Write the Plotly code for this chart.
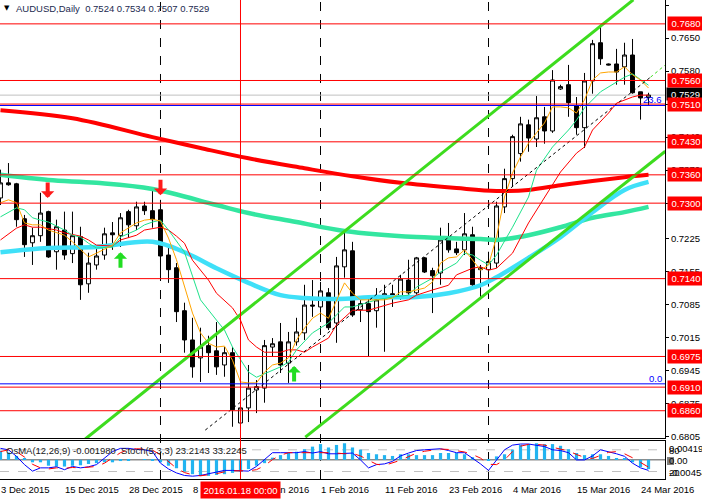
import plotly.graph_objects as go

FONT = "Liberation Sans"

# AUDUSD daily bars, index 0 = 3 Dec 2015 ... 81 = 25 Mar 2016
bars = list(range(82))
opens = [0.7311, 0.7343, 0.7341, 0.7267, 0.7216, 0.7231, 0.7282, 0.7197, 0.7243, 0.7193,
         0.7229, 0.7129, 0.7169, 0.7190, 0.7237, 0.7231, 0.7282, 0.7252, 0.7294, 0.7284,
         0.7286, 0.7190, 0.7163, 0.7072, 0.7010, 0.6972, 0.6998, 0.6987, 0.6957, 0.6983,
         0.6834, 0.6866, 0.6904, 0.6908, 0.6995, 0.7006, 0.6961, 0.7006, 0.7025, 0.7084,
         0.7080, 0.7110, 0.7046, 0.7165, 0.7199, 0.7074, 0.7087, 0.7072, 0.7101, 0.7108,
         0.7101, 0.7137, 0.7110, 0.7184, 0.7157, 0.7152, 0.7222, 0.7203, 0.7201, 0.7233,
         0.7159, 0.7159, 0.7173, 0.7292, 0.7352, 0.7405, 0.7466, 0.7436, 0.7483, 0.7453,
         0.7542, 0.7551, 0.7506, 0.7460, 0.7559, 0.7640, 0.7595, 0.7595, 0.7589, 0.7614,
         0.7536, 0.7524]
highs = [0.7371, 0.7385, 0.7343, 0.7275, 0.7248, 0.7322, 0.7284, 0.7265, 0.7282, 0.7282,
         0.7250, 0.7195, 0.7207, 0.7248, 0.7260, 0.7279, 0.7286, 0.7303, 0.7303, 0.7328,
         0.7307, 0.7205, 0.7173, 0.7089, 0.7057, 0.7036, 0.7019, 0.7048, 0.6995, 0.6995,
         0.6872, 0.6957, 0.6925, 0.7010, 0.7014, 0.7046, 0.7027, 0.7057, 0.7127, 0.7137,
         0.7133, 0.7120, 0.7186, 0.7239, 0.7218, 0.7099, 0.7097, 0.7120, 0.7127, 0.7127,
         0.7148, 0.7180, 0.7186, 0.7186, 0.7163, 0.7248, 0.7258, 0.7218, 0.7279, 0.7250,
         0.7169, 0.7197, 0.7303, 0.7373, 0.7445, 0.7483, 0.7477, 0.7527, 0.7504, 0.7582,
         0.7551, 0.7593, 0.7525, 0.7576, 0.7646, 0.7678, 0.7596, 0.7627, 0.7640, 0.7648,
         0.7536, 0.7534]
lows = [0.7296, 0.7337, 0.7250, 0.7186, 0.7169, 0.7218, 0.7184, 0.7159, 0.7180, 0.7173,
        0.7095, 0.7110, 0.7159, 0.7180, 0.7201, 0.7207, 0.7226, 0.7243, 0.7275, 0.7248,
        0.7154, 0.7131, 0.7048, 0.6983, 0.6930, 0.6921, 0.6940, 0.6936, 0.6932, 0.6826,
        0.6824, 0.6836, 0.6855, 0.6877, 0.6974, 0.6940, 0.6919, 0.6998, 0.7010, 0.7059,
        0.7048, 0.7031, 0.7004, 0.7142, 0.7059, 0.7048, 0.6974, 0.7036, 0.6985, 0.7080,
        0.7095, 0.7106, 0.7106, 0.7152, 0.7067, 0.7127, 0.7195, 0.7190, 0.7190, 0.7118,
        0.7101, 0.7123, 0.7163, 0.7279, 0.7335, 0.7388, 0.7409, 0.7419, 0.7426, 0.7449,
        0.7540, 0.7483, 0.7445, 0.7417, 0.7532, 0.7593, 0.7592, 0.7551, 0.7551, 0.7532,
        0.7477, 0.7507]
closes = [0.7343, 0.7339, 0.7265, 0.7212, 0.7231, 0.7279, 0.7186, 0.7250, 0.7190, 0.7231,
          0.7127, 0.7173, 0.7188, 0.7235, 0.7233, 0.7269, 0.7254, 0.7292, 0.7284, 0.7265,
          0.7188, 0.7159, 0.7070, 0.7010, 0.6953, 0.6995, 0.6983, 0.6953, 0.6983, 0.6862,
          0.6866, 0.6908, 0.6911, 0.6998, 0.7002, 0.6957, 0.7006, 0.7027, 0.7084, 0.7082,
          0.7114, 0.7036, 0.7167, 0.7201, 0.7063, 0.7087, 0.7070, 0.7095, 0.7108, 0.7101,
          0.7139, 0.7110, 0.7184, 0.7154, 0.7146, 0.7222, 0.7201, 0.7195, 0.7235, 0.7127,
          0.7163, 0.7176, 0.7294, 0.7352, 0.7441, 0.7468, 0.7438, 0.7481, 0.7453, 0.7561,
          0.7547, 0.7513, 0.7460, 0.7559, 0.7638, 0.7606, 0.7593, 0.7578, 0.7614, 0.7534,
          0.7523, 0.7529]

# moving averages (bar index, price)
ma_red_k = [0, 9, 19, 25, 31, 38, 44, 50, 57, 62, 66, 70, 74, 78, 81]
ma_red_v = [0.7497, 0.7480, 0.7440, 0.7417, 0.7395, 0.7374, 0.7357, 0.7343, 0.7332,
            0.7326, 0.7328, 0.7338, 0.7347, 0.7355, 0.7360]
ma_aqua_k = [0, 6, 12, 19, 27, 31, 37, 43, 52, 60, 62, 66, 70, 74, 78, 81]
ma_aqua_v = [0.7360, 0.7349, 0.7343, 0.7330, 0.7296, 0.7279, 0.7260, 0.7241, 0.7228,
             0.7224, 0.7222, 0.7232, 0.7249, 0.7269, 0.7281, 0.7292]
ma_cyan_k = [0, 6, 12, 19, 23, 27, 31, 35, 38, 42, 47, 52, 56, 60, 62, 66, 70, 74, 78, 81]
ma_cyan_v = [0.7196, 0.7205, 0.7207, 0.7218, 0.7196, 0.7162, 0.7131, 0.7105, 0.7099,
             0.7097, 0.7101, 0.7101, 0.7109, 0.7126, 0.7143, 0.7184, 0.7228, 0.7281,
             0.7328, 0.7345]
ma_orange_k = [0, 1, 2, 3, 4, 5, 6, 8, 9, 10, 11, 12, 14, 15, 17, 18, 19, 20, 21, 22, 23,
               24, 25, 26, 27, 28, 29, 30, 31, 32, 33, 34, 35, 36, 37, 38, 39, 40, 41, 42,
               43, 44, 45, 46, 47, 48, 49, 50, 51, 52, 53, 54, 55, 56, 57, 58, 59, 60, 61,
               62, 63, 64, 65, 66, 67, 68, 69, 70, 71, 72, 73, 74, 75, 76, 77, 78, 79, 80, 81]
ma_orange_v = [0.7301, 0.7307, 0.7301, 0.7258, 0.7254, 0.7254, 0.7243, 0.7232, 0.7218,
               0.7201, 0.7186, 0.7194, 0.7211, 0.7237, 0.7258, 0.7264, 0.7266, 0.7262,
               0.7226, 0.7180, 0.7122, 0.7067, 0.7025, 0.7003, 0.6995, 0.6997, 0.6967,
               0.6921, 0.6919, 0.6919, 0.6942, 0.6957, 0.6961, 0.6972, 0.7010, 0.7035,
               0.7056, 0.7067, 0.7056, 0.7095, 0.7131, 0.7109, 0.7095, 0.7095, 0.7095,
               0.7095, 0.7099, 0.7112, 0.7112, 0.7116, 0.7120, 0.7133, 0.7173, 0.7184,
               0.7186, 0.7201, 0.7180, 0.7158, 0.7169, 0.7228, 0.7313, 0.7364, 0.7398,
               0.7427, 0.7449, 0.7470, 0.7504, 0.7504, 0.7502, 0.7491, 0.7519, 0.7561,
               0.7576, 0.7578, 0.7578, 0.7589, 0.7572, 0.7561, 0.7544]
ma_green_k = [0, 2, 3, 4, 5, 6, 8, 9, 10, 11, 12, 14, 15, 17, 18, 19, 20, 21, 23, 24, 25,
              27, 28, 29, 30, 31, 32, 34, 35, 36, 37, 39, 41, 43, 44, 46, 47, 49, 51, 52,
              54, 55, 57, 58, 59, 60, 61, 62, 64, 66, 67, 69, 71, 72, 73, 75, 77, 78, 79,
              80, 81]
ma_green_v = [0.7271, 0.7290, 0.7286, 0.7269, 0.7264, 0.7260, 0.7243, 0.7232, 0.7228,
              0.7215, 0.7205, 0.7207, 0.7228, 0.7243, 0.7254, 0.7260, 0.7264, 0.7243,
              0.7196, 0.7143, 0.7095, 0.7052, 0.7031, 0.6995, 0.6967, 0.6942, 0.6931,
              0.6946, 0.6953, 0.6963, 0.6989, 0.7025, 0.7046, 0.7080, 0.7080, 0.7090,
              0.7095, 0.7101, 0.7105, 0.7122, 0.7141, 0.7154, 0.7173, 0.7194, 0.7190,
              0.7179, 0.7169, 0.7190, 0.7249, 0.7313, 0.7370, 0.7419, 0.7455, 0.7476,
              0.7502, 0.7536, 0.7557, 0.7567, 0.7574, 0.7561, 0.7550]
ma_thin_red_k = [0, 2, 3, 4, 5, 7, 8, 10, 11, 12, 14, 15, 17, 18, 20, 21, 22, 23, 24, 26,
                 27, 29, 30, 31, 32, 33, 35, 36, 37, 38, 39, 41, 42, 44, 46, 47, 49, 51,
                 52, 54, 56, 57, 59, 60, 61, 62, 64, 66, 68, 70, 72, 73, 74, 76, 77, 79,
                 80, 81]
ma_thin_red_v = [0.7222, 0.7247, 0.7254, 0.7249, 0.7249, 0.7243, 0.7237, 0.7230, 0.7222,
                 0.7211, 0.7209, 0.7222, 0.7232, 0.7243, 0.7249, 0.7243, 0.7230, 0.7215,
                 0.7179, 0.7137, 0.7109, 0.7078, 0.7052, 0.7010, 0.6995, 0.6984, 0.6984,
                 0.6989, 0.6989, 0.6984, 0.6995, 0.7014, 0.7042, 0.7073, 0.7073, 0.7078,
                 0.7088, 0.7095, 0.7105, 0.7116, 0.7126, 0.7148, 0.7162, 0.7165, 0.7158,
                 0.7162, 0.7194, 0.7258, 0.7313, 0.7366, 0.7406, 0.7419, 0.7455, 0.7491,
                 0.7512, 0.7525, 0.7529, 0.7529]

# drawn objects: equidistant channel (upper, lower, centre) as end points
chan_up_k, chan_up_v = [10.6, 79.1], [0.6800, 0.7731]
chan_lo_k, chan_lo_v = [38.1, 83.1], [0.6804, 0.7410]
chan_mid_k, chan_mid_v = [25.6, 81.25], [0.6819, 0.7567]
chan_ray_k, chan_ray_v = [81.25, 83.1], [0.7567, 0.7593]

levels_red = [0.7680, 0.7560, 0.7510, 0.7430, 0.7360, 0.7300, 0.7140, 0.6975, 0.6910, 0.6860]
fib_levels = [0.7507, 0.6917]
fib_text = ["23.6", "0.0"]
fib_text_y = [0.7520, 0.6929]
bid_price = 0.7529

arrows_down_k, arrows_down_p = [5.9, 20.0], [0.7311, 0.7317]
arrows_up_k, arrows_up_p = [15.0, 36.7], [0.7196, 0.6955]

price_ticks = [0.7720, 0.7650, 0.7580, 0.7510, 0.7440, 0.7370, 0.7300, 0.7225, 0.7155,
               0.7085, 0.7015, 0.6945, 0.6875, 0.6805]

date_ticks = [0, 8, 16, 24, 32, 40, 48, 56, 64, 72, 80]
date_labels = ["3 Dec 2015", "15 Dec 2015", "28 Dec 2015", "8 Jan 2016", "20 Jan 2016",
               "1 Feb 2016", "11 Feb 2016", "23 Feb 2016", "4 Mar 2016", "15 Mar 2016",
               "24 Mar 2016"]
month_lines = [20, 40, 61]
vline_bar = 30

# OsMA(12,26,9) histogram and Stoch(5,3,3)
osma = [0.0021, 0.0017, 0.0009, 0.0002, -0.0006, -0.0006, -0.0014, -0.0016, -0.0016, -0.0014,
        -0.0013, -0.0010, -0.0008, -0.0006, -0.0006, -0.0003, -0.0002, 0.0000, 0.0001, -0.0001,
        -0.0006, -0.0014, -0.0020, -0.0028, -0.0034, -0.0038, -0.0038, -0.0036, -0.0034, -0.0031,
        -0.0028, -0.0022, -0.0014, -0.0008, 0.0005, 0.0011, 0.0016, 0.0019, 0.0025, 0.0031,
        0.0037, 0.0029, 0.0035, 0.0039, 0.0029, 0.0024, 0.0016, 0.0013, 0.0011, 0.0009,
        0.0013, 0.0013, 0.0011, 0.0011, 0.0011, 0.0016, 0.0016, 0.0016, 0.0013, 0.0006,
        0.0000, -0.0002, 0.0008, 0.0013, 0.0024, 0.0035, 0.0037, 0.0039, 0.0037, 0.0037,
        0.0033, 0.0025, 0.0016, 0.0011, 0.0013, 0.0013, 0.0009, 0.0004, 0.0002, -0.0006,
        -0.0017, -0.0022]
stoch_main = [84, 80, 62, 39, 21, 30, 30, 33, 25, 34, 30, 33, 39, 57, 75, 84, 84, 81, 80, 75,
              43, 27, 16, 9, 7, 9, 14, 19, 23, 23, 21, 21, 34, 52, 72, 72, 72, 72, 75, 71,
              75, 69, 69, 69, 71, 52, 30, 39, 41, 48, 63, 71, 78, 80, 82, 83, 78, 72, 72, 57,
              41, 23, 52, 80, 93, 96, 96, 93, 89, 80, 78, 72, 52, 52, 63, 80, 75, 69, 62, 43,
              30, 23]
stoch_signal = [75, 80, 75, 60, 40, 30, 27, 30, 29, 31, 30, 32, 34, 43, 57, 72, 81, 83, 82, 79,
                66, 48, 29, 17, 11, 8, 10, 14, 19, 22, 22, 22, 25, 36, 53, 65, 72, 72, 73, 73,
                74, 72, 71, 69, 70, 63, 51, 40, 37, 43, 51, 61, 71, 76, 80, 82, 81, 78, 74, 67,
                57, 40, 39, 52, 75, 90, 95, 95, 93, 87, 82, 77, 67, 59, 56, 65, 73, 75, 69, 58,
                45, 32]

fig = go.Figure()

fig.add_trace(go.Candlestick(
    x=bars, open=opens, high=highs, low=lows, close=closes,
    increasing=dict(line=dict(color="black", width=1), fillcolor="white"),
    decreasing=dict(line=dict(color="black", width=1), fillcolor="black"),
    whiskerwidth=0, xaxis="x", yaxis="y", hoverinfo="skip"))

def line(xs, ys, color, width, dash="solid", shape="linear", xa="x", ya="y"):
    fig.add_trace(go.Scatter(x=xs, y=ys, mode="lines", xaxis=xa, yaxis=ya, hoverinfo="skip",
                             line=dict(color=color, width=width, dash=dash, shape=shape)))

line(ma_red_k, ma_red_v, "#ff0000", 4, shape="spline")
line(ma_aqua_k, ma_aqua_v, "#33e6a0", 4.5, shape="spline")
line(ma_cyan_k, ma_cyan_v, "#3fe0f8", 4.5, shape="spline")
line(ma_thin_red_k, ma_thin_red_v, "#ff0000", 1)
line(ma_green_k, ma_green_v, "#1ee28a", 1)
line(ma_orange_k, ma_orange_v, "#ffa500", 1)
line(chan_up_k, chan_up_v, "#3ddc1e", 3)
line(chan_lo_k, chan_lo_v, "#3ddc1e", 3)
line(chan_mid_k, chan_mid_v, "#000000", 1, dash="dot")
line(chan_ray_k, chan_ray_v, "#3ddc1e", 1, dash="dot")

fig.add_trace(go.Bar(x=bars, y=osma, width=0.4, marker=dict(color="#22b4f0", line=dict(width=0)),
                     xaxis="x2", yaxis="y2", hoverinfo="skip"))
line(bars, stoch_main, "#0000ff", 1, xa="x2", ya="y3")
line(bars, stoch_signal, "#ff0000", 1, dash="dash", xa="x2", ya="y3")

shapes = []
for k in month_lines:
    shapes.append(dict(type="line", xref="x", yref="paper", x0=k, x1=k, y0=0, y1=1, layer="below",
                       line=dict(color="black", width=1, dash="dash")))
shapes.append(dict(type="line", xref="x", yref="paper", x0=vline_bar, x1=vline_bar, y0=0, y1=1,
                   line=dict(color="#ff0000", width=1)))
shapes.append(dict(type="line", xref="paper", yref="y", x0=0, x1=1, y0=bid_price, y1=bid_price,
                   layer="below", line=dict(color="#c0c0c0", width=1)))
for lv in levels_red:
    shapes.append(dict(type="line", xref="paper", yref="y", x0=0, x1=1, y0=lv, y1=lv,
                       line=dict(color="#ff0000", width=1)))
for lv in fib_levels:
    shapes.append(dict(type="line", xref="paper", yref="y", x0=0, x1=1, y0=lv, y1=lv,
                       line=dict(color="#0000ff", width=1)))
shapes.append(dict(type="line", xref="paper", yref="y2", x0=0, x1=1, y0=0, y1=0, layer="below",
                   line=dict(color="#8c8c8c", width=1.5)))
for lv in [80, 20]:
    shapes.append(dict(type="line", xref="paper", yref="y3", x0=0, x1=1, y0=lv, y1=lv, layer="below",
                       line=dict(color="#c0c0c0", width=1, dash="dash")))
shapes.append(dict(type="rect", xref="paper", yref="paper", x0=1.003, x1=1.0135, y0=0.0292, y1=0.0459,
                   fillcolor="#808080", line=dict(width=0)))

ann = []
txt = dict(family=FONT, size=9.5, color="black")
for k, lab in zip(date_ticks, date_labels):
    ann.append(dict(xref="x2", x=k, xanchor="left", xshift=-1.5, yref="paper", y=0, yanchor="top",
                    yshift=-3, text=lab, showarrow=False, font=txt))
ann.append(dict(xref="x2", x=vline_bar, xanchor="center", yref="paper", y=0, yanchor="top", yshift=-2,
                text="2016.01.18 00:00", showarrow=False, bgcolor="#ff0000", width=77, height=14,
                font=dict(family=FONT, size=9.5, color="white")))
ann.append(dict(xref="paper", x=1, xanchor="left", xshift=1, yref="y", y=bid_price, yanchor="middle",
                yshift=1, text="%.4f" % bid_price, showarrow=False, bgcolor="black", width=35, height=10,
                font=dict(family=FONT, size=9.5, color="white")))
for lv in levels_red:
    ann.append(dict(xref="paper", x=1, xanchor="left", xshift=2, yref="y", y=lv, yanchor="middle",
                    text="%.4f" % lv, showarrow=False, bgcolor="#ff0000", width=34, height=11,
                    font=dict(family=FONT, size=9.5, color="white")))
for t, ty in zip(fib_text, fib_text_y):
    ann.append(dict(xref="x", x=82.9, xanchor="right", yref="y", y=ty, yanchor="middle", text=t,
                    showarrow=False, font=dict(family=FONT, size=9.5, color="#0000ff")))
for k, p in zip(arrows_down_k, arrows_down_p):
    ann.append(dict(xref="x", yref="y", x=k, y=p, ax=0, ay=-17, text="", showarrow=True,
                    arrowhead=1, arrowsize=0.55, arrowwidth=4, arrowcolor="#ff1a1a", standoff=0))
for k, p in zip(arrows_up_k, arrows_up_p):
    ann.append(dict(xref="x", yref="y", x=k, y=p, ax=0, ay=17, text="", showarrow=True,
                    arrowhead=1, arrowsize=0.55, arrowwidth=4, arrowcolor="#22dd22", standoff=0))
ann.append(dict(xref="paper", x=0, xanchor="left", xshift=2, yref="paper", y=1, yanchor="top", yshift=-2,
                text="▼", showarrow=False, font=dict(family="DejaVu Sans", size=7, color="black")))
ann.append(dict(xref="paper", x=0, xanchor="left", xshift=14, yref="paper", y=1, yanchor="top", yshift=-1,
                text="AUDUSD,Daily  0.7524 0.7534 0.7507 0.7529", showarrow=False,
                font=dict(family=FONT, size=9.5, color="#1c2a50")))
ann.append(dict(xref="paper", x=0, xanchor="left", xshift=4, yref="paper", y=0.0605, yanchor="middle",
                text="OsMA(12,26,9) -0.001980  Stoch(5,3,3) 23.2143 33.2245", showarrow=False,
                font=dict(family=FONT, size=9.5, color="#202020")))
for t, yp in [("0.00419", 0.0647), ("80", 0.0605), ("0.00", 0.0376), ("-0.00454", 0.0146), ("20", 0.0146)]:
    ann.append(dict(xref="paper", x=1, xanchor="left", xshift=2, yref="paper", y=yp, yanchor="middle",
                    text=t, showarrow=False, font=txt))

fig.update_layout(
    width=702, height=499, margin=dict(l=0, r=37, t=0, b=20),
    paper_bgcolor="white", plot_bgcolor="white", showlegend=False,
    font=dict(family=FONT, size=9.5, color="black"),
    xaxis=dict(domain=[0, 1], range=[-0.06, 83.06], anchor="y", showticklabels=False, showgrid=False,
               zeroline=False, showline=True, linecolor="black", linewidth=1, ticks="",
               rangeslider=dict(visible=False)),
    xaxis2=dict(domain=[0, 1], matches="x", range=[-0.06, 83.06], anchor="y2", showticklabels=False,
                showgrid=False, zeroline=False, showline=True, mirror=True, linecolor="black",
                linewidth=1, ticks=""),
    yaxis=dict(domain=[41 / 479, 1], range=[0.68022, 0.77306], side="right", anchor="x",
               tickvals=price_ticks, ticktext=["%.4f" % v for v in price_ticks],
               tickfont=dict(family=FONT, size=9.5, color="black"), ticks="outside", ticklen=3,
               tickcolor="black", showgrid=False, zeroline=False, showline=True, linecolor="black",
               linewidth=1),
    yaxis2=dict(domain=[0, 38 / 479], range=[-0.00454, 0.00443], side="right", anchor="x2",
                showticklabels=False, showgrid=False, zeroline=False, showline=True,
                linecolor="black", linewidth=1, ticks=""),
    yaxis3=dict(overlaying="y2", range=[-0.8, 104.4], side="right", anchor="x2", showticklabels=False,
                showgrid=False, zeroline=False, showline=False, ticks=""),
    shapes=shapes, annotations=ann,
)

# the page body has a default margin; drop it so the chart fills the window exactly
fig.write_html("out.html", config={"displayModeBar": False},
               post_script="document.body.style.margin='0';")
